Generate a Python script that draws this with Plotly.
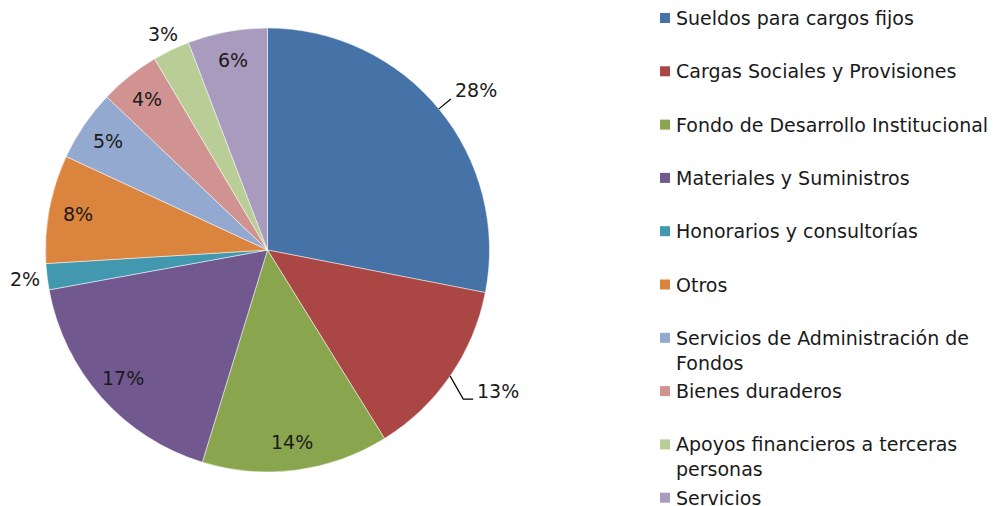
import math
import plotly.graph_objects as go

# datos
labels = [
    "Sueldos para cargos fijos",
    "Cargas Sociales y Provisiones",
    "Fondo de Desarrollo Institucional",
    "Materiales y Suministros",
    "Honorarios y consultorías",
    "Otros",
    "Servicios de Administración de<br>Fondos",
    "Bienes duraderos",
    "Apoyos financieros a terceras<br>personas",
    "Servicios",
]
values = [28.1, 13.1, 13.6, 17.4, 1.9, 7.9, 5.2, 4.4, 2.7, 5.8]
colors = ["#4572A7", "#AA4643", "#89A54E", "#71588F", "#4198AF",
          "#DB843D", "#93A9CF", "#D19392", "#B9CD96", "#A99BBD"]

# estilo de etiquetas: radio relativo y si lleva línea guía
label_r = [None, None, 0.87, 0.87, 1.10, 0.87, 0.87, 0.87, 1.08, 0.87]
leader = [True, True, False, False, False, False, False, False, False, False]

W, H = 1003, 506
cx, cy, R = 267.5, 250, 222
FONT = "DejaVu Sans"
FS = 19


def px(x):
    return x / W


def py(y):
    return 1 - y / H


fig = go.Figure(go.Pie(
    labels=labels,
    values=values,
    sort=False,
    direction="clockwise",
    rotation=0,
    marker=dict(colors=colors, line=dict(color="white", width=0.5)),
    textinfo="none",
    hoverinfo="label+percent",
    showlegend=False,
    domain=dict(x=[px(cx - R), px(cx + R)], y=[py(cy + R), py(cy - R)]),
))

annotations = []
shapes = []
total = sum(values)
acc = 0
for i, v in enumerate(values):
    mid = (acc + v / 2) / total * 2 * math.pi
    acc += v
    pct = f"{round(v / total * 100)}%"
    s, c = math.sin(mid), math.cos(mid)
    if leader[i]:
        x0, y0 = cx + R * s, cy - R * c
        if s > 0 and c > 0:
            # línea recta hacia arriba a la derecha
            x1, y1 = cx + 1.07 * R * s, cy - 1.07 * R * c
            shapes.append(dict(type="line", xref="paper", yref="paper",
                               x0=px(x0), y0=py(y0), x1=px(x1), y1=py(y1),
                               line=dict(color="black", width=1.2)))
            annotations.append(dict(x=px(x1 + 2), y=py(y1 - 9), text=pct,
                                    xanchor="left", yanchor="middle"))
        else:
            # codo: baja y luego horizontal
            x1, y1 = x0 + 13, y0 + 23
            x2 = x1 + 10
            shapes.append(dict(type="path", xref="paper", yref="paper",
                               path=f"M {px(x0)},{py(y0)} L {px(x1)},{py(y1)} L {px(x2)},{py(y1)}",
                               line=dict(color="black", width=1.2)))
            annotations.append(dict(x=px(x2 + 2), y=py(y1 - 8), text=pct,
                                    xanchor="left", yanchor="middle"))
    else:
        r = label_r[i] * R
        annotations.append(dict(x=px(cx + r * s), y=py(cy - r * c), text=pct,
                                xanchor="center", yanchor="middle"))

for a in annotations:
    a.update(xref="paper", yref="paper", showarrow=False,
             font=dict(family=FONT, size=FS, color="#1a1a1a"))

# leyenda manual
leg_x, leg_top, leg_step = 660, 18, 53.3
for i, (lab, col) in enumerate(zip(labels, colors)):
    yc = leg_top + i * leg_step
    shapes.append(dict(type="rect", xref="paper", yref="paper",
                       x0=px(leg_x), x1=px(leg_x + 10), y0=py(yc + 5), y1=py(yc - 5),
                       fillcolor=col, line=dict(width=0)))
    annotations.append(dict(x=px(leg_x + 14), y=py(yc - 13), text=lab,
                            xref="paper", yref="paper", showarrow=False,
                            xanchor="left", yanchor="top", align="left",
                            font=dict(family=FONT, size=FS, color="#1a1a1a")))

fig.update_layout(
    width=W, height=H,
    margin=dict(l=0, r=0, t=0, b=0),
    paper_bgcolor="white",
    plot_bgcolor="white",
    annotations=annotations,
    shapes=shapes,
)

fig.write_html("out.html", config={"displayModeBar": False},
               post_script="document.body.style.margin='0';")
